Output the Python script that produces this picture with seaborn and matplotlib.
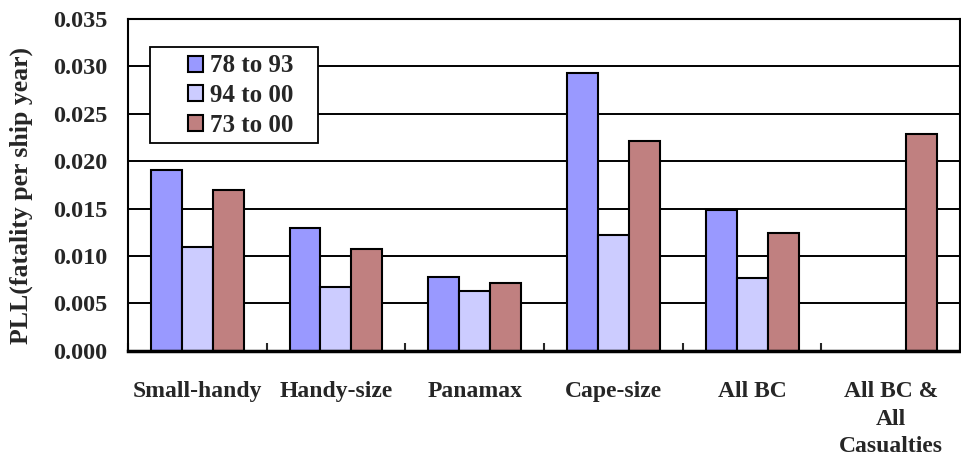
import numpy as np
import pandas as pd
import seaborn as sns
import matplotlib.pyplot as plt
import matplotlib.patches as mpatches

# dati
categories = ["Small-handy", "Handy-size", "Panamax", "Cape-size", "All BC", "All BC &\nAll\nCasualties"]
series = ["78 to 93", "94 to 00", "73 to 00"]
v_78_93 = [0.0191, 0.0130, 0.0078, 0.0293, 0.0149, np.nan]
v_94_00 = [0.0109, 0.0067, 0.0063, 0.0122, 0.0077, np.nan]
v_73_00 = [0.0170, 0.0107, 0.0071, 0.0221, 0.0124, 0.0229]
colors = ["#9999FF", "#CCCCFF", "#C08080"]
yticks = [0.000, 0.005, 0.010, 0.015, 0.020, 0.025, 0.030, 0.035]

df = pd.DataFrame({
    "cat": categories * 3,
    "serie": [s for s in series for _ in categories],
    "pll": v_78_93 + v_94_00 + v_73_00,
})

sns.set_style("white")
plt.rcParams["font.family"] = ["Liberation Serif", "DejaVu Serif"]
plt.rcParams["font.weight"] = "bold"

fig = plt.figure(figsize=(9.62, 4.61), dpi=100)
ax = fig.add_axes([0.133, 0.239, 0.865, 0.72])

# griglia orizzontale nera
ax.set_axisbelow(True)
ax.yaxis.grid(True, color="black", linewidth=1.4)

sns.barplot(data=df, x="cat", y="pll", hue="serie", hue_order=series,
            palette=colors, width=0.67, gap=0, edgecolor="black",
            linewidth=1.5, saturation=1, ax=ax, order=categories)

ax.set_ylim(0, 0.035)
ax.set_yticks(yticks)
ax.set_yticklabels([f"{t:.3f}" for t in yticks], fontsize=17.5, fontweight="bold")
ax.set_xlim(-0.5, 5.5)
ax.set_xticks(np.arange(-0.5, 5.6, 1), minor=False)
ax.set_xticklabels([])
ax.set_xticks(range(6), minor=True)
ax.set_xticklabels(categories, minor=True, fontsize=17, fontweight="bold",
                   linespacing=1.4, va="top")
ax.tick_params(axis="x", which="major", direction="in", length=6, width=1.5, bottom=True)
ax.tick_params(axis="x", which="minor", length=0, pad=22)
ax.tick_params(axis="y", length=0, pad=15)

ax.set_xlabel("")
ax.set_ylabel("PLL(fatality per ship year)", fontsize=18.5, fontweight="bold")
ax.yaxis.set_label_coords(-0.114, 0.467)

for side in ["left", "right", "top"]:
    ax.spines[side].set_color("black")
    ax.spines[side].set_linewidth(1.5)
ax.spines["bottom"].set_color("black")
ax.spines["bottom"].set_linewidth(2.5)

# riquadro della legenda (padding piu largo ai lati come nell'originale)
box = mpatches.Rectangle((0.0264, 0.6265), 0.202, 0.289, transform=ax.transAxes,
                         facecolor="white", edgecolor="black", linewidth=1.3, zorder=4)
ax.add_patch(box)

handles, labels = ax.get_legend_handles_labels()
leg = ax.legend(handles, labels, loc="upper left", bbox_to_anchor=(0.072, 0.893),
                frameon=False, handlelength=0.6, handleheight=0.6, handletextpad=0.3,
                labelspacing=0.27, borderpad=0, borderaxespad=0,
                prop={"weight": "bold", "size": 18})
leg.set_zorder(5)

plt.savefig("out.png", dpi=100)
